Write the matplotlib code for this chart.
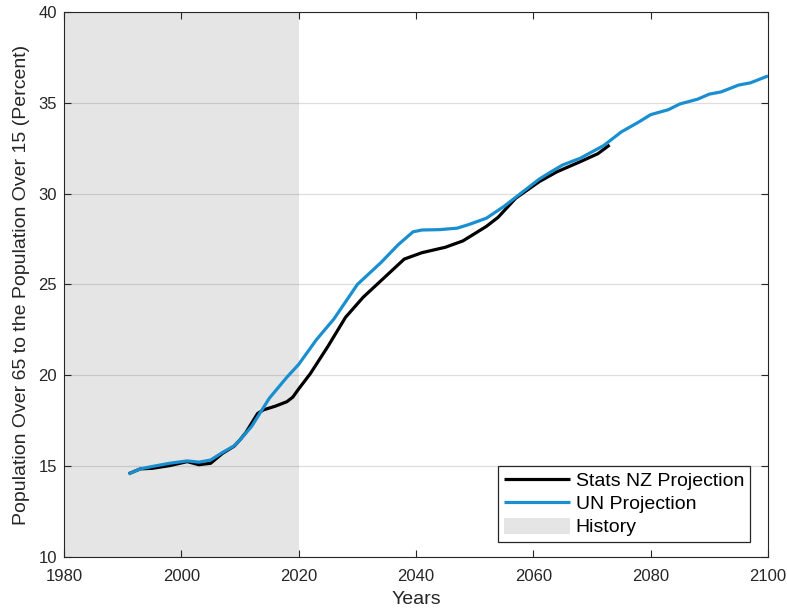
import matplotlib
matplotlib.use("Agg")
import matplotlib.pyplot as plt

plt.rcParams['font.family'] = ['Liberation Sans', 'DejaVu Sans']

# Stats NZ projection of the old-age ratio (percent)
nz_years = [1991, 1993, 1995, 1998, 2001, 2003, 2005, 2007, 2009, 2010, 2011, 2013,
            2014, 2016, 2018, 2019, 2020, 2022, 2025, 2028, 2031, 2034, 2038, 2041,
            2045, 2048, 2050, 2052, 2054, 2057, 2061, 2064, 2068, 2071, 2073]
nz_values = [14.58, 14.85, 14.88, 15.03, 15.25, 15.08, 15.16, 15.7, 16.1, 16.45, 16.85, 17.9,
             18.1, 18.3, 18.55, 18.8, 19.25, 20.1, 21.6, 23.2, 24.3, 25.2, 26.4, 26.75,
             27.05, 27.4, 27.8, 28.2, 28.7, 29.75, 30.66, 31.2, 31.76, 32.2, 32.68]

# UN projection of the same ratio (percent)
un_years = [1991, 1993, 1995, 1998, 2001, 2003, 2005, 2007, 2009, 2010, 2012, 2015,
            2018, 2020, 2023, 2026, 2028, 2030, 2034, 2037, 2039.5, 2041, 2044, 2047,
            2049, 2052, 2055, 2058, 2061, 2063, 2065, 2068, 2070, 2072, 2075, 2078,
            2080, 2083, 2085, 2088, 2090, 2092, 2095, 2097, 2100]
un_values = [14.58, 14.85, 14.98, 15.16, 15.29, 15.22, 15.34, 15.75, 16.12, 16.44, 17.2, 18.74,
             19.9, 20.6, 21.95, 23.1, 24.05, 25.0, 26.2, 27.2, 27.9, 28.0, 28.02, 28.1,
             28.3, 28.65, 29.3, 30.05, 30.8, 31.2, 31.58, 31.95, 32.3, 32.65, 33.4, 33.95,
             34.35, 34.62, 34.94, 35.2, 35.48, 35.6, 35.98, 36.1, 36.48]

history_span = (1980, 2020)
x_ticks = [1980, 2000, 2020, 2040, 2060, 2080, 2100]
y_ticks = [10, 15, 20, 25, 30, 35, 40]

axis_color = '#262626'

fig = plt.figure(figsize=(7.87, 6.10), dpi=100)
ax = fig.add_axes([64 / 787, 1 - 557 / 610, 704 / 787, 545 / 610])

ax.axvspan(*history_span, color='#e5e5e5', lw=0, zorder=0, label='History')
ax.grid(axis='y', color=axis_color, alpha=0.15, lw=0.9, zorder=1)
ax.set_axisbelow(False)

ax.plot(nz_years, nz_values, color='black', lw=2.3, zorder=3,
        label='Stats NZ Projection', solid_capstyle='butt')
ax.plot(un_years, un_values, color='#1a8fd0', lw=2.3, zorder=4,
        label='UN Projection', solid_capstyle='butt')

ax.set_xlim(1980, 2100)
ax.set_ylim(10, 40)
ax.set_xticks(x_ticks)
ax.set_yticks(y_ticks)

for s in ax.spines.values():
    s.set_color(axis_color)
    s.set_linewidth(0.8)
ax.tick_params(direction='in', length=5, width=0.8, color=axis_color,
               top=True, right=True, labelsize=12, labelcolor=axis_color)
ax.tick_params(axis='x', pad=8.5)
ax.tick_params(axis='y', pad=5)

ax.set_xlabel('Years', fontsize=14, color=axis_color, labelpad=5)
ax.set_ylabel('Population Over 65 to the Population Over 15 (Percent)',
              fontsize=14, color=axis_color, labelpad=6)

handles, labels = ax.get_legend_handles_labels()
order = [labels.index(n) for n in ['Stats NZ Projection', 'UN Projection', 'History']]
leg = ax.legend([handles[i] for i in order], [labels[i] for i in order],
                loc='lower right', bbox_to_anchor=(0.9744, 0.027), borderaxespad=0,
                fontsize=14, handlelength=3.4, handleheight=0.9, handletextpad=0.3,
                labelspacing=0.22, borderpad=0.3, fancybox=False, framealpha=1,
                edgecolor=axis_color)
leg.get_frame().set_linewidth(0.9)

fig.savefig('out.png', dpi=100)
